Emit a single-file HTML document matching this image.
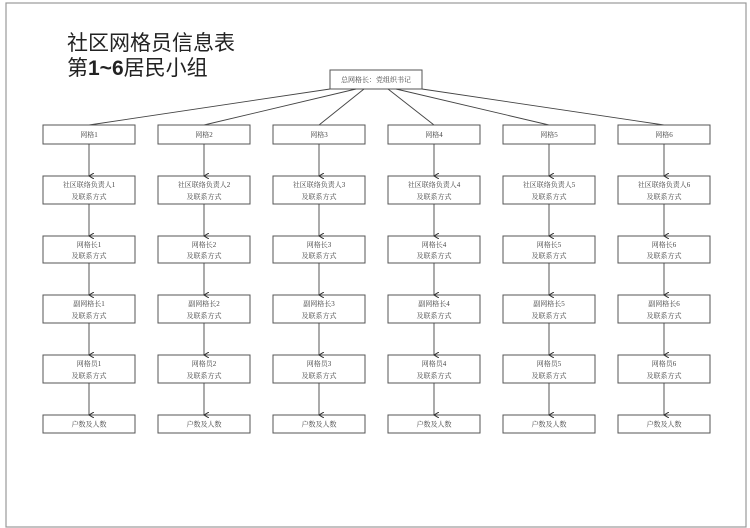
<!DOCTYPE html>
<html><head><meta charset="utf-8"><style>
body{margin:0;background:#fff;}
svg{display:block;}
.t{font-family:"Liberation Serif","Noto Serif CJK SC",serif;font-size:7px;fill:#444;text-anchor:middle;}
rect{fill:#fff;stroke:#555;}
.c line{stroke:#444;stroke-width:0.9;marker-end:url(#a);}
</style></head><body>
<svg width="750" height="528" viewBox="0 0 750 528" xmlns="http://www.w3.org/2000/svg">
<defs><marker id="a" markerWidth="6" markerHeight="6" refX="3" refY="5" orient="auto" markerUnits="userSpaceOnUse"><path d="M0,0 L3,5 L6,0" fill="none" stroke="#333" stroke-width="1"/></marker></defs>
<rect x="6" y="3" width="740" height="524" style="fill:none;stroke:#999;stroke-width:1.2"/>
<text x="67" y="50" font-family="'Liberation Sans','Noto Sans CJK SC',sans-serif" font-size="21" fill="#222">社区网格员信息表</text>
<text x="67" y="75" font-family="'Liberation Sans','Noto Sans CJK SC',sans-serif" font-size="21" fill="#222">第<tspan font-weight="bold">1~6</tspan>居民小组</text>
<rect x="330" y="70" width="92" height="19"/>
<text class="t" x="376" y="82">总网格长：党组织书记</text>
<g stroke="#444" stroke-width="0.9">
<line x1="330" y1="89" x2="89" y2="125"/>
<line x1="356" y1="89" x2="204" y2="125"/>
<line x1="364" y1="89" x2="319" y2="125"/>
<line x1="388" y1="89" x2="434" y2="125"/>
<line x1="396" y1="89" x2="549" y2="125"/>
<line x1="422" y1="89" x2="664" y2="125"/>
</g>

<!-- column boxes -->
<g>
<rect x="43" y="125" width="92" height="19"/><rect x="158" y="125" width="92" height="19"/><rect x="273" y="125" width="92" height="19"/><rect x="388" y="125" width="92" height="19"/><rect x="503" y="125" width="92" height="19"/><rect x="618" y="125" width="92" height="19"/>
<rect x="43" y="176" width="92" height="28"/><rect x="158" y="176" width="92" height="28"/><rect x="273" y="176" width="92" height="28"/><rect x="388" y="176" width="92" height="28"/><rect x="503" y="176" width="92" height="28"/><rect x="618" y="176" width="92" height="28"/>
<rect x="43" y="236" width="92" height="27"/><rect x="158" y="236" width="92" height="27"/><rect x="273" y="236" width="92" height="27"/><rect x="388" y="236" width="92" height="27"/><rect x="503" y="236" width="92" height="27"/><rect x="618" y="236" width="92" height="27"/>
<rect x="43" y="295" width="92" height="28"/><rect x="158" y="295" width="92" height="28"/><rect x="273" y="295" width="92" height="28"/><rect x="388" y="295" width="92" height="28"/><rect x="503" y="295" width="92" height="28"/><rect x="618" y="295" width="92" height="28"/>
<rect x="43" y="355" width="92" height="28"/><rect x="158" y="355" width="92" height="28"/><rect x="273" y="355" width="92" height="28"/><rect x="388" y="355" width="92" height="28"/><rect x="503" y="355" width="92" height="28"/><rect x="618" y="355" width="92" height="28"/>
<rect x="43" y="415" width="92" height="18"/><rect x="158" y="415" width="92" height="18"/><rect x="273" y="415" width="92" height="18"/><rect x="388" y="415" width="92" height="18"/><rect x="503" y="415" width="92" height="18"/><rect x="618" y="415" width="92" height="18"/>
</g>

<g class="c">
<line x1="89" y1="144" x2="89" y2="176"/><line x1="204" y1="144" x2="204" y2="176"/><line x1="319" y1="144" x2="319" y2="176"/><line x1="434" y1="144" x2="434" y2="176"/><line x1="549" y1="144" x2="549" y2="176"/><line x1="664" y1="144" x2="664" y2="176"/>
<line x1="89" y1="204" x2="89" y2="236"/><line x1="204" y1="204" x2="204" y2="236"/><line x1="319" y1="204" x2="319" y2="236"/><line x1="434" y1="204" x2="434" y2="236"/><line x1="549" y1="204" x2="549" y2="236"/><line x1="664" y1="204" x2="664" y2="236"/>
<line x1="89" y1="263" x2="89" y2="295"/><line x1="204" y1="263" x2="204" y2="295"/><line x1="319" y1="263" x2="319" y2="295"/><line x1="434" y1="263" x2="434" y2="295"/><line x1="549" y1="263" x2="549" y2="295"/><line x1="664" y1="263" x2="664" y2="295"/>
<line x1="89" y1="323" x2="89" y2="355"/><line x1="204" y1="323" x2="204" y2="355"/><line x1="319" y1="323" x2="319" y2="355"/><line x1="434" y1="323" x2="434" y2="355"/><line x1="549" y1="323" x2="549" y2="355"/><line x1="664" y1="323" x2="664" y2="355"/>
<line x1="89" y1="383" x2="89" y2="415"/><line x1="204" y1="383" x2="204" y2="415"/><line x1="319" y1="383" x2="319" y2="415"/><line x1="434" y1="383" x2="434" y2="415"/><line x1="549" y1="383" x2="549" y2="415"/><line x1="664" y1="383" x2="664" y2="415"/>
</g>

<g>
<text class="t" x="89" y="137">网格1</text><text class="t" x="204" y="137">网格2</text><text class="t" x="319" y="137">网格3</text><text class="t" x="434" y="137">网格4</text><text class="t" x="549" y="137">网格5</text><text class="t" x="664" y="137">网格6</text>

<text class="t" x="89" y="187">社区联络负责人1</text><text class="t" x="204" y="187">社区联络负责人2</text><text class="t" x="319" y="187">社区联络负责人3</text><text class="t" x="434" y="187">社区联络负责人4</text><text class="t" x="549" y="187">社区联络负责人5</text><text class="t" x="664" y="187">社区联络负责人6</text>
<text class="t" x="89" y="199">及联系方式</text><text class="t" x="204" y="199">及联系方式</text><text class="t" x="319" y="199">及联系方式</text><text class="t" x="434" y="199">及联系方式</text><text class="t" x="549" y="199">及联系方式</text><text class="t" x="664" y="199">及联系方式</text>

<text class="t" x="89" y="247">网格长1</text><text class="t" x="204" y="247">网格长2</text><text class="t" x="319" y="247">网格长3</text><text class="t" x="434" y="247">网格长4</text><text class="t" x="549" y="247">网格长5</text><text class="t" x="664" y="247">网格长6</text>
<text class="t" x="89" y="258">及联系方式</text><text class="t" x="204" y="258">及联系方式</text><text class="t" x="319" y="258">及联系方式</text><text class="t" x="434" y="258">及联系方式</text><text class="t" x="549" y="258">及联系方式</text><text class="t" x="664" y="258">及联系方式</text>

<text class="t" x="89" y="306">副网格长1</text><text class="t" x="204" y="306">副网格长2</text><text class="t" x="319" y="306">副网格长3</text><text class="t" x="434" y="306">副网格长4</text><text class="t" x="549" y="306">副网格长5</text><text class="t" x="664" y="306">副网格长6</text>
<text class="t" x="89" y="318">及联系方式</text><text class="t" x="204" y="318">及联系方式</text><text class="t" x="319" y="318">及联系方式</text><text class="t" x="434" y="318">及联系方式</text><text class="t" x="549" y="318">及联系方式</text><text class="t" x="664" y="318">及联系方式</text>

<text class="t" x="89" y="366">网格员1</text><text class="t" x="204" y="366">网格员2</text><text class="t" x="319" y="366">网格员3</text><text class="t" x="434" y="366">网格员4</text><text class="t" x="549" y="366">网格员5</text><text class="t" x="664" y="366">网格员6</text>
<text class="t" x="89" y="378">及联系方式</text><text class="t" x="204" y="378">及联系方式</text><text class="t" x="319" y="378">及联系方式</text><text class="t" x="434" y="378">及联系方式</text><text class="t" x="549" y="378">及联系方式</text><text class="t" x="664" y="378">及联系方式</text>

<text class="t" x="89" y="426.5">户数及人数</text><text class="t" x="204" y="426.5">户数及人数</text><text class="t" x="319" y="426.5">户数及人数</text><text class="t" x="434" y="426.5">户数及人数</text><text class="t" x="549" y="426.5">户数及人数</text><text class="t" x="664" y="426.5">户数及人数</text>
</g>
</svg>
</body></html>
